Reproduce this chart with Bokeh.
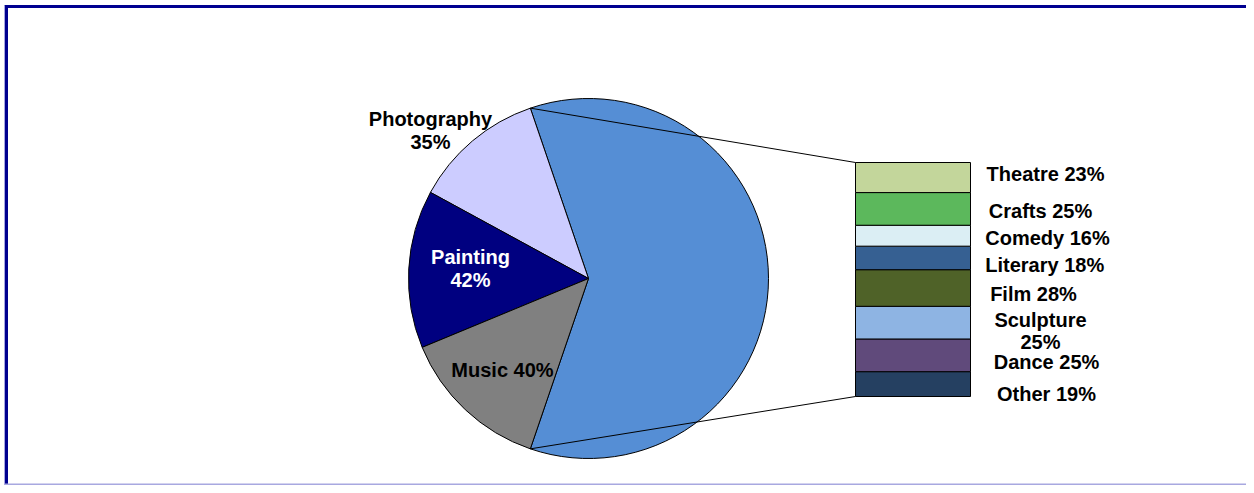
import math
from bokeh.plotting import figure
from bokeh.models import Range1d
from bokeh.embed import file_html
from bokeh.resources import INLINE
from bokeh.core.properties import value

# ---- data ----
pie_labels = ["Photography", "Painting", "Music"]
pie_values = [35, 42, 40]
pie_colors = ["#CCCCFF", "#000080", "#808080"]
other_color = "#558ED5"

bar_labels = ["Theatre", "Crafts", "Comedy", "Literary", "Film", "Sculpture", "Dance", "Other"]
bar_values = [23, 25, 16, 18, 28, 25, 25, 19]
bar_colors = ["#C3D69B", "#5CB85C", "#DBEEF4", "#366092", "#4F6228", "#8EB4E3", "#604A7B", "#254061"]
bar_texts = ["Theatre 23%", "Crafts 25%", "Comedy 16%", "Literary  18%", "Film 28%", "Sculpture\n25%", "Dance 25%", "Other 19%"]

W, H = 1246, 485
def Y(ry):
    return H - ry

p = figure(width=W, height=H, output_backend="svg", toolbar_location=None,
           x_range=Range1d(0, W), y_range=Range1d(0, H), min_border=0)
p.axis.visible = False
p.grid.visible = False
p.outline_line_color = None
p.background_fill_color = "white"

# ---- frame ----
p.segment(x0=[4], y0=[Y(6)], x1=[W], y1=[Y(6)], line_color="#000090", line_width=3)
p.segment(x0=[6], y0=[Y(5)], x1=[6], y1=[Y(H)], line_color="#000090", line_width=3)
p.segment(x0=[4], y0=[Y(5)], x1=[4], y1=[Y(H)], line_color="#A8A8E0", line_width=1)
p.segment(x0=[4], y0=[Y(484)], x1=[W], y1=[Y(484)], line_color="#A8A8E0", line_width=2)

# ---- pie ----
cx, cy, r = 588, Y(278), 180
total = sum(pie_values) + sum(bar_values)
big = sum(bar_values) / total * 2 * math.pi
starts = [-big / 2]
ends = [big / 2]
cur = big / 2
for v in pie_values:
    a = v / total * 2 * math.pi
    starts.append(cur)
    ends.append(cur + a)
    cur += a
p.wedge(x=[cx] * 4, y=[cy] * 4, radius=r, start_angle=starts, end_angle=ends,
        fill_color=[other_color] + pie_colors, line_color="black", line_width=1)

# ---- bar (stacked, Other at bottom) ----
bar_x0, bar_x1 = 855, 970
bar_bottom = Y(396)
bar_top = Y(162)
scale = (bar_top - bar_bottom) / sum(bar_values)
p.extra_y_ranges = {"bar": Range1d(-bar_bottom / scale, (H - bar_bottom) / scale)}
rev_vals = bar_values[::-1]
rev_cols = bar_colors[::-1]
bottoms, tops = [], []
c = 0
for v in rev_vals:
    bottoms.append(c)
    tops.append(c + v)
    c += v
p.vbar(x=[(bar_x0 + bar_x1) / 2] * len(rev_vals), width=bar_x1 - bar_x0,
       bottom=bottoms, top=tops, fill_color=rev_cols, line_color="black",
       line_width=1, y_range_name="bar")

# ---- connector lines ----
tx, ty = cx + r * math.cos(big / 2), cy + r * math.sin(big / 2)
bx, by = cx + r * math.cos(-big / 2), cy + r * math.sin(-big / 2)
p.segment(x0=[tx, bx], y0=[ty, by], x1=[bar_x0, bar_x0],
          y1=[bar_bottom + sum(bar_values) * scale, bar_bottom],
          line_color="black", line_width=1)

# ---- labels ----
font = value("Liberation Sans")
fs = "20px"
def lbl(x, y, t, color="black"):
    p.text(x=[x], y=[Y(y)], text=[t], text_font=font, text_font_style="bold",
           text_font_size=fs, text_align="center", text_baseline="middle",
           text_color=color)

lbl(430, 118, "Photography")
lbl(430, 141, "35%")
lbl(470, 256, "Painting", "white")
lbl(470, 279, "42%", "white")
lbl(502, 369, "Music 40%")

bar_label_pos = [(1045, 173), (1040, 210), (1047, 237), (1047, 264), (1033, 293),
                 (1040, 319), (1046, 361), (1046, 393)]
for (x, y), t in zip(bar_label_pos, bar_texts):
    lines = t.split("\n")
    for i, ln in enumerate(lines):
        lbl(x, y + i * 22, ln)

open("out.html", "w").write(file_html(p, INLINE))
